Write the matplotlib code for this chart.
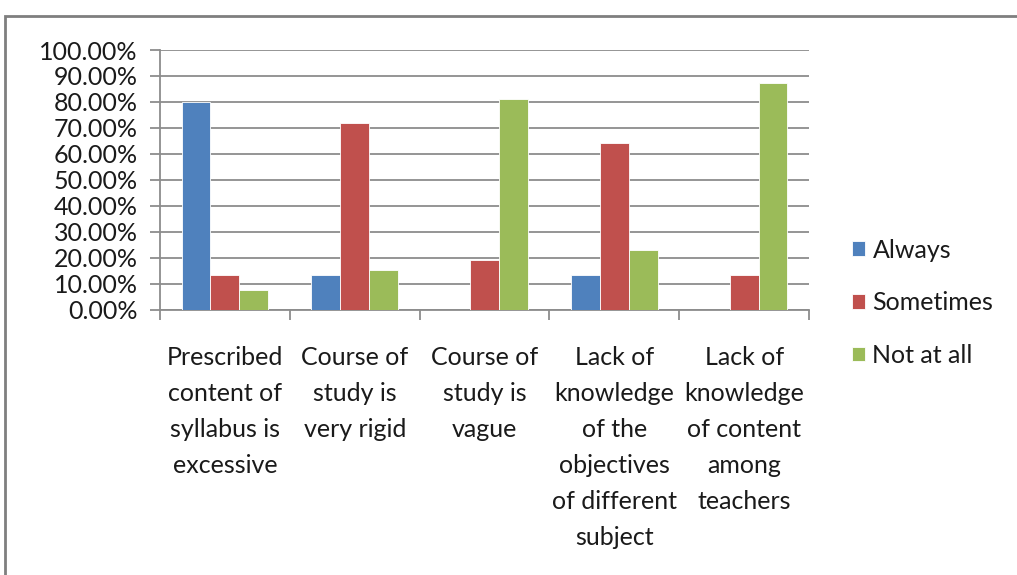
import numpy as np
import matplotlib.pyplot as plt
from matplotlib.patches import Rectangle
from matplotlib.ticker import FixedLocator

categories = ["Prescribed\ncontent of\nsyllabus is\nexcessive",
              "Course of\nstudy is\nvery rigid",
              "Course of\nstudy is\nvague",
              "Lack of\nknowledge\nof the\nobjectives\nof different\nsubject",
              "Lack of\nknowledge\nof content\namong\nteachers"]
always = [80.0, 13.33, 0.0, 13.33, 0.0]
sometimes = [13.33, 71.7, 19.1, 64.0, 13.33]
not_at_all = [7.6, 15.2, 81.0, 22.8, 87.2]
series_names = ["Always", "Sometimes", "Not at all"]
colors = ["#4F81BD", "#C0504D", "#9BBB59"]
yticks = np.arange(0, 101, 10)

plt.rcParams['font.family'] = ['Lato', 'DejaVu Sans']

W, H = 1017, 575
fig = plt.figure(figsize=(W / 100, H / 100), dpi=100)

# chart area border
fig.patches.append(Rectangle((5 / W, -0.1), 1.1, (H - 16) / H + 0.1, transform=fig.transFigure,
                             fill=False, edgecolor="#7f7f7f", linewidth=2))

ax = fig.add_axes([160 / W, (H - 309.5) / H, 649 / W, 259.5 / H])

x = np.arange(len(categories))
bw = 1 / 4.5
for i, vals in enumerate([always, sometimes, not_at_all]):
    ax.bar(x + (i - 1) * bw, vals, width=bw, color=colors[i], label=series_names[i],
           edgecolor="white", linewidth=0.6, zorder=3)

ax.set_xlim(-0.5, len(categories) - 0.5)
ax.set_ylim(0, 100)
ax.set_yticks(yticks)
ax.set_yticklabels(["%.2f%%" % v for v in yticks], fontsize=18, color="#1a1a1a")
ax.yaxis.grid(True, color="#8c8c8c", linewidth=1.3, zorder=0)
ax.set_axisbelow(True)

ax.set_xticks(x)
ax.set_xticklabels(categories, fontsize=18, linespacing=1.69, va="top", color="#1a1a1a")
ax.xaxis.set_minor_locator(FixedLocator(np.arange(-0.5, len(categories), 1.0)))
ax.tick_params(axis="x", which="major", length=0, pad=26)
ax.tick_params(axis="x", which="minor", length=7.5, color="#8c8c8c", width=1.3)
ax.tick_params(axis="y", length=7.2, color="#8c8c8c", width=1.3, pad=9)

for side in ["top", "right"]:
    ax.spines[side].set_visible(False)
for side in ["left", "bottom"]:
    ax.spines[side].set_color("#8c8c8c")
    ax.spines[side].set_linewidth(1.3)

leg = ax.legend(loc="upper left", bbox_to_anchor=(829 / W, (H - 216) / H), bbox_transform=fig.transFigure,
                frameon=False, fontsize=18, handlelength=0.52, handleheight=0.52,
                labelspacing=1.19, handletextpad=0.32)
for t in leg.get_texts():
    t.set_color("#1a1a1a")

fig.savefig("out.png", dpi=100)
